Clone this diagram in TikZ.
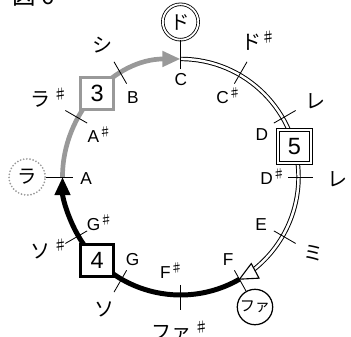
\documentclass[tikz,border=0pt]{standalone}
\usepackage{fontspec}
\setmainfont{Liberation Sans}
\newfontfamily\jpfont{Noto Sans CJK JP}
\usetikzlibrary{arrows.meta}
\definecolor{arcgray}{gray}{0.6}
\newcommand{\shp}{\textsuperscript{\jpfont ♯}}

\begin{document}
\begin{tikzpicture}[
    note/.style={font=\fontsize{12.5}{14}\selectfont, inner sep=1pt},
    kana/.style={font=\fontsize{14.5}{16}\selectfont\jpfont, inner sep=1pt},
    numbox/.style={draw, minimum size=0.82cm, line width=2.2pt, fill=white,
                   inner sep=0pt, font=\fontsize{17}{19}\selectfont},
    ring/.style={circle, draw, minimum size=0.9cm, inner sep=0pt, fill=white,
                 font=\fontsize{14}{16}\selectfont\jpfont},
    tick/.style={line width=0.6pt},
    tip/.style={-{Triangle[length=0.46cm, width=0.38cm]}}
]
\useasboundingbox (-4.589,-4.067) rectangle (4.334,4.499);

% ---- title ----
\node[font=\fontsize{17}{19}\selectfont\jpfont] (title) at (-3.74, 4.60) {図 6};

% ---- points on the circle ----
\coordinate (nC) at (90:3);
\coordinate (nF) at (-60:3);
\coordinate (nA) at (180:3);

% ---- C to F: double line ----
\draw[line width=0.7pt, double, double distance=1.8pt]
    (nC) arc[start angle=90, end angle=-53, radius=3];
\begin{scope}[shift={(nF)}, rotate=-152]
    \draw[fill=white, line width=0.8pt] (0,0) -- (-0.45,0.21) -- (-0.45,-0.21) -- cycle;
\end{scope}

% ---- F to A: black ----
\draw[line width=3.6pt, tip] (nF) arc[start angle=-60, end angle=-180, radius=3];

% ---- A to C: gray ----
\draw[arcgray, line width=3.4pt, tip] (nA) arc[start angle=180, end angle=90, radius=3];

% ---- circled names ----
\node[ring, double, double distance=1.3pt, line width=0.6pt] (do) at (90:3.94) {ド};
\node[ring, draw=arcgray, line width=1.4pt, dash pattern=on 0pt off 2.3pt,
      line cap=round, minimum size=0.92cm] (ra) at (180:3.9) {ラ};
\node[ring, line width=0.9pt, font=\fontsize{11}{13}\selectfont\jpfont] (fa) at (-60.2:3.81) {ファ};

% ---- ticks ----
\foreach \a in {60,30,0,-30,-90,-120,-150,150,120}
    \draw[tick] (\a:2.74) -- (\a:3.38);
\draw[tick] (90:2.74) -- (do);
\draw[tick] (180:2.74) -- (ra);
\draw[tick] (-60:2.74) -- (fa);

% ---- numbered boxes ----
\node[numbox, draw=arcgray] (b3) at (135:3) {3};
\node[numbox] (b4) at (225:3) {4};
\node[numbox, line width=0.7pt, double, double distance=1.5pt, minimum size=0.85cm] (b5) at (15:3) {5};

% ---- letter names ----
\node[note] (lC) at (0.01, 2.47) {C};
\node[note] (lCs) at (1.23, 2.08) {C\shp};
\node[note] (lD) at (2.07, 1.07) {D};
\node[note] (lDs) at (2.35, 0) {D\shp};
\node[note] (lE) at (2.05, -1.22) {E};
\node[note] (lF) at (1.21, -2.11) {F};
\node[note] (lFs) at (-0.22, -2.39) {F\shp};
\node[note] (lG) at (-1.22, -2.10) {G};
\node[note] (lGs) at (-2.05, -1.17) {G\shp};
\node[note] (lA) at (-2.40, -0.03) {A};
\node[note] (lAs) at (-2.05, 1.09) {A\shp};
\node[note] (lB) at (-1.21, 2.03) {B};

% ---- kana names ----
\node[kana] (kCs) at (1.98, 3.46) {ド\shp};
\node[kana] (kD) at (3.42, 1.92) {レ};
\node[kana, anchor=west] (kDs) at (3.70, 0) {レ\,\shp};
\node[kana] (kE) at (3.38, -1.94) {ミ};
\node[kana] (kFs) at (-0.01, -3.91) {ファ\,\shp};
\node[kana] (kG) at (-1.92, -3.37) {ソ};
\node[kana] (kGs) at (-3.34, -1.83) {ソ\,\shp};
\node[kana] (kAs) at (-3.34, 2.01) {ラ\,\shp};
\node[kana] (kB) at (-1.97, 3.36) {シ};

\end{tikzpicture}
\end{document}
